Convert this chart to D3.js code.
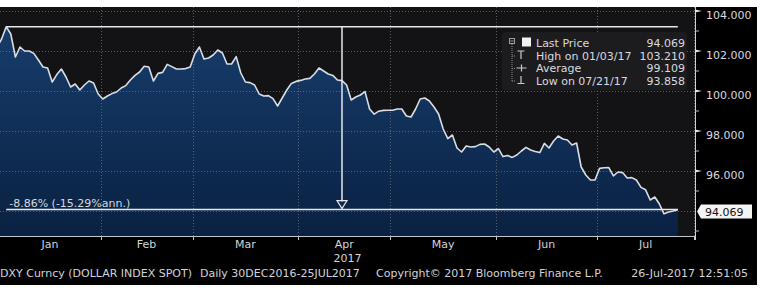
<!DOCTYPE html>
<html>
<head>
<meta charset="utf-8">
<script src="https://cdn.jsdelivr.net/npm/d3@7"></script>
<style>
  body { margin: 0; background: #fff; }
  svg { display: block; font-family: "DejaVu Sans", sans-serif; }
</style>
</head>
<body>
<div id="chart"></div>
<script>
var width = 760, height = 292;

// DXY daily values, 30 Dec 2016 .. 26 Jul 2017 (one per weekday)
const prices = [
    102.2, 102.6, 103.21, 102.85, 101.7, 102.2, 102.0, 102.0, 101.88, 101.55,
    101.2, 101.15, 100.45, 100.82, 101.1, 100.7, 100.2, 100.35, 100.05, 100.3,
    100.5, 100.4, 99.85, 99.6, 99.75, 99.87, 99.95, 100.15, 100.27, 100.55,
    100.78, 100.95, 101.24, 101.2, 100.5, 100.88, 100.93, 101.33, 101.22, 101.1,
    101.1, 101.12, 101.2, 101.85, 102.2, 101.6, 101.65, 101.8, 102.05, 101.9,
    101.35, 101.35, 101.72, 100.9, 100.45, 100.42, 100.3, 99.85, 99.75, 99.77,
    99.62, 99.25, 99.65, 100.05, 100.38, 100.48, 100.53, 100.6, 100.63, 100.85,
    101.15, 101.0, 100.85, 100.78, 100.55, 100.52, 100.3, 99.55, 99.7, 99.8,
    99.97, 99.1, 98.84, 98.99, 99.03, 99.04, 99.04, 99.1, 99.1, 98.75,
    98.7, 99.1, 99.6, 99.65, 99.5, 99.2, 98.85, 98.1, 97.62, 97.8,
    97.15, 96.95, 97.25, 97.2, 97.22, 97.33, 97.35, 97.2, 96.95, 97.12,
    96.72, 96.78, 96.68, 96.8, 97.0, 97.18, 97.05, 96.98, 96.92, 97.38,
    97.15, 97.5, 97.75, 97.6, 97.55, 97.3, 97.4, 96.2, 95.8, 95.55,
    95.55, 96.13, 96.16, 96.17, 95.76, 95.95, 95.92, 95.65, 95.67, 95.55,
    95.18, 95.06, 94.55, 94.7, 94.35, 93.86, 93.95, 94.0, 94.069
];
const yTicks = [94, 96, 98, 100, 102, 104];
const yMinorTicks = [93, 95, 97, 99, 101, 103];
const monthNames = ["Jan", "Feb", "Mar", "Apr", "May", "Jun", "Jul"];
const yearLabel = "2017";
const legendLabels = ["Last Price", "High on 01/03/17", "Average", "Low on 07/21/17"];
const legendValues = ["94.069", "103.210", "99.109", "93.858"];
const highValue = 103.21, highIndex = 2;
const lastValue = 94.069;
const changeLabel = "-8.86% (-15.29%ann.)";
const footerLeft = ["DXY Curncy (DOLLAR INDEX SPOT)", "Daily 30DEC2016-25JUL2017", "Copyright\u00a9 2017 Bloomberg Finance L.P."];
const footerRight = "26-Jul-2017 12:51:05";

// plot geometry
var plot = { left: 0, right: 695, top: 7, bottom: 236 };

// weekday dates starting 30 Dec 2016
var dates = [];
var dt = new Date(2016, 11, 30);
while (dates.length < prices.length + 6) {
    if (dt.getDay() % 6 != 0) dates.push(new Date(dt));
    dt.setDate(dt.getDate() + 1);
}
// month boundaries, half way between last and first trading day
var bounds = [];
for (var i = 1; i < dates.length; i++) {
    if (dates[i].getMonth() != dates[i - 1].getMonth()) bounds.push(i - 0.5);
}

var x = d3.scaleLinear().domain([0, 151.5]).range([-3, 693.9]);
var y = d3.scaleLinear().domain([92.75, 104.2]).range([plot.bottom, plot.top]);

var svg = d3.select("#chart").append("svg")
    .attr("width", width)
    .attr("height", height);

// backgrounds
svg.append("rect").attr("x", 0).attr("y", 7).attr("width", 757).attr("height", 278).attr("fill", "#000");
svg.append("rect").attr("x", plot.left).attr("y", plot.top)
    .attr("width", plot.right - plot.left).attr("height", plot.bottom - plot.top)
    .attr("fill", "#131316");

var defs = svg.append("defs");
defs.append("clipPath").attr("id", "clip").append("rect")
    .attr("x", plot.left).attr("y", plot.top)
    .attr("width", plot.right - plot.left).attr("height", plot.bottom - plot.top);
var grad = defs.append("linearGradient").attr("id", "fillGrad")
    .attr("gradientUnits", "userSpaceOnUse")
    .attr("x1", 0).attr("x2", 0).attr("y1", plot.top).attr("y2", plot.bottom);
grad.append("stop").attr("offset", "0%").attr("stop-color", "#183f6f");
grad.append("stop").attr("offset", "100%").attr("stop-color", "#0a2142");

var g = svg.append("g").attr("clip-path", "url(#clip)");

// area + line
var area = d3.area()
    .x(function (d, i) { return x(i); })
    .y0(plot.bottom)
    .y1(function (d) { return y(d); });
g.append("path").datum(prices).attr("d", area).attr("fill", "url(#fillGrad)");

// dotted grid
g.selectAll(".hgrid").data(yTicks).enter().append("line")
    .attr("x1", plot.left).attr("x2", plot.right)
    .attr("y1", function (d) { return Math.round(y(d)) + 0.5; })
    .attr("y2", function (d) { return Math.round(y(d)) + 0.5; })
    .attr("stroke", "#6a6e78").attr("stroke-width", 1).attr("stroke-dasharray", "1,2")
    .attr("opacity", 0.8);
g.selectAll(".vgrid").data(bounds.slice(1)).enter().append("line")
    .attr("x1", function (d) { return Math.round(x(d)) + 0.5; })
    .attr("x2", function (d) { return Math.round(x(d)) + 0.5; })
    .attr("y1", plot.top).attr("y2", plot.bottom)
    .attr("stroke", "#6a6e78").attr("stroke-width", 1).attr("stroke-dasharray", "1,2")
    .attr("opacity", 0.8);

var line = d3.line()
    .x(function (d, i) { return x(i); })
    .y(function (d) { return y(d); });
g.append("path").datum(prices).attr("d", line)
    .attr("fill", "none").attr("stroke", "#d9dde4").attr("stroke-width", 1.6)
    .attr("stroke-linejoin", "round");

// high / last lines and change arrow
var lastIndex = prices.length - 1;
var midIndex = (highIndex + lastIndex) / 2;
g.append("line")
    .attr("x1", x(highIndex)).attr("x2", x(lastIndex))
    .attr("y1", y(highValue)).attr("y2", y(highValue))
    .attr("stroke", "#e6e8ec").attr("stroke-width", 1.5);
g.append("line")
    .attr("x1", x(highIndex)).attr("x2", x(lastIndex))
    .attr("y1", y(lastValue)).attr("y2", y(lastValue))
    .attr("stroke", "#e6e8ec").attr("stroke-width", 1.5);
g.append("line")
    .attr("x1", x(midIndex)).attr("x2", x(midIndex))
    .attr("y1", y(highValue)).attr("y2", y(lastValue) - 8)
    .attr("stroke", "#e6e8ec").attr("stroke-width", 1.5);
var ax = x(midIndex), ay = y(lastValue);
g.append("path")
    .attr("d", "M" + (ax - 5) + "," + (ay - 9) + "L" + (ax + 5) + "," + (ay - 9) + "L" + ax + "," + (ay - 1) + "Z")
    .attr("fill", "none").attr("stroke", "#e6e8ec").attr("stroke-width", 1.2);

svg.append("text")
    .attr("x", x(highIndex) + 3).attr("y", y(lastValue) - 3)
    .attr("fill", "#d6d9de").attr("font-size", 11)
    .text(changeLabel);

// legend
var lg = svg.append("g");
lg.append("rect").attr("x", 502).attr("y", 32).attr("width", 185).attr("height", 58).attr("rx", 3)
    .attr("fill", "#1c1c1f");
var rowY = [47, 59.5, 72, 84.5];
lg.selectAll(".ll").data(legendLabels).enter().append("text")
    .attr("x", 536).attr("y", function (d, i) { return rowY[i]; })
    .attr("fill", "#d8dadf").attr("font-size", 11)
    .text(function (d) { return d; });
lg.selectAll(".lv").data(legendValues).enter().append("text")
    .attr("x", 685).attr("y", function (d, i) { return rowY[i]; })
    .attr("text-anchor", "end")
    .attr("fill", "#d8dadf").attr("font-size", 11)
    .text(function (d) { return d; });
// tree icons
lg.append("rect").attr("x", 509.5).attr("y", 38.5).attr("width", 5).attr("height", 5)
    .attr("fill", "none").attr("stroke", "#9a9ca2").attr("stroke-width", 1);
lg.append("line").attr("x1", 510.5).attr("x2", 513.5).attr("y1", 41).attr("y2", 41).attr("stroke", "#9a9ca2");
lg.append("rect").attr("x", 522).attr("y", 37.5).attr("width", 9).attr("height", 9).attr("fill", "#f2f2f2");
lg.append("path")
    .attr("d", "M512,44V82M512,56H516M512,68.5H516M512,81H516")
    .attr("stroke", "#8a8c92").attr("stroke-width", 1).attr("stroke-dasharray", "1,1").attr("fill", "none");
// high glyph (T), average glyph (+), low glyph (upside-down T)
lg.append("path").attr("d", "M517.5,51H524.5M521,51V59")
    .attr("stroke", "#c8cad0").attr("stroke-width", 1.2).attr("fill", "none");
lg.append("path").attr("d", "M516.5,68H526.5M521.5,64.5V71.5")
    .attr("stroke", "#c8cad0").attr("stroke-width", 1.2).attr("fill", "none");
lg.append("path").attr("d", "M521,76V83.5M517.5,83.5H524.5")
    .attr("stroke", "#c8cad0").attr("stroke-width", 1.2).attr("fill", "none");

// right axis
var ra = svg.append("g");
ra.append("line").attr("x1", plot.right + 0.5).attr("x2", plot.right + 0.5)
    .attr("y1", plot.top).attr("y2", plot.bottom + 4)
    .attr("stroke", "#d0d2d6").attr("stroke-width", 1);
ra.selectAll(".maj").data(yTicks.filter(function (d) { return d != 94; })).enter().append("path")
    .attr("d", function (d) { var t = y(d); return "M" + plot.right + "," + (t - 1.5) + "L" + (plot.right + 7) + "," + t + "L" + plot.right + "," + (t + 1.5) + "Z"; })
    .attr("fill", "#e4e6ea");
ra.selectAll(".min").data(yMinorTicks).enter().append("line")
    .attr("x1", plot.right).attr("x2", plot.right + 4)
    .attr("y1", function (d) { return y(d); }).attr("y2", function (d) { return y(d); })
    .attr("stroke", "#b8bac0").attr("stroke-width", 1);
ra.selectAll(".tl").data(yTicks.filter(function (d) { return d != 94; })).enter().append("text")
    .attr("x", 706).attr("y", function (d) { return y(d) + 8; })
    .attr("fill", "#d8dadf").attr("font-size", 11)
    .text(function (d) { return d3.format(".3f")(d); });

// last price tag
var ly = y(lastValue) + 2;
ra.append("path")
    .attr("d", "M697," + ly + "L701," + (ly - 7) + "H752V" + (ly + 7) + "H701Z")
    .attr("fill", "#f4f4f4");
ra.append("text").attr("x", 705).attr("y", ly + 4).attr("fill", "#111").attr("font-size", 11).text(lastValue.toFixed(3));

// bottom axis
var ba = svg.append("g");
ba.append("line").attr("x1", plot.left).attr("x2", plot.right)
    .attr("y1", plot.bottom + 0.5).attr("y2", plot.bottom + 0.5)
    .attr("stroke", "#c2c4ca").attr("stroke-width", 1);
ba.selectAll(".xt").data(bounds.slice(1)).enter().append("line")
    .attr("x1", function (d) { return Math.round(x(d)) + 0.5; })
    .attr("x2", function (d) { return Math.round(x(d)) + 0.5; })
    .attr("y1", plot.bottom).attr("y2", plot.bottom + 4)
    .attr("stroke", "#c2c4ca").attr("stroke-width", 1);
ba.selectAll(".xl").data(monthNames).enter().append("text")
    .attr("x", function (d, i) { return x((bounds[i] + bounds[i + 1]) / 2); })
    .attr("y", 248)
    .attr("text-anchor", "middle")
    .attr("fill", "#d2d4d9").attr("font-size", 11)
    .text(function (d) { return d; });
ba.append("text").attr("x", (plot.left + plot.right) / 2).attr("y", 262)
    .attr("text-anchor", "middle").attr("fill", "#d2d4d9").attr("font-size", 11)
    .text(yearLabel);

// footer
var fx = [0, 200, 376];
svg.selectAll(".ft").data(footerLeft).enter().append("text")
    .attr("x", function (d, i) { return fx[i]; }).attr("y", 277)
    .attr("fill", "#d2d4d9").attr("font-size", 11)
    .text(function (d) { return d; });
svg.append("text").attr("x", 748).attr("y", 277).attr("text-anchor", "end")
    .attr("fill", "#d2d4d9").attr("font-size", 11).text(footerRight);
</script>
</body>
</html>
